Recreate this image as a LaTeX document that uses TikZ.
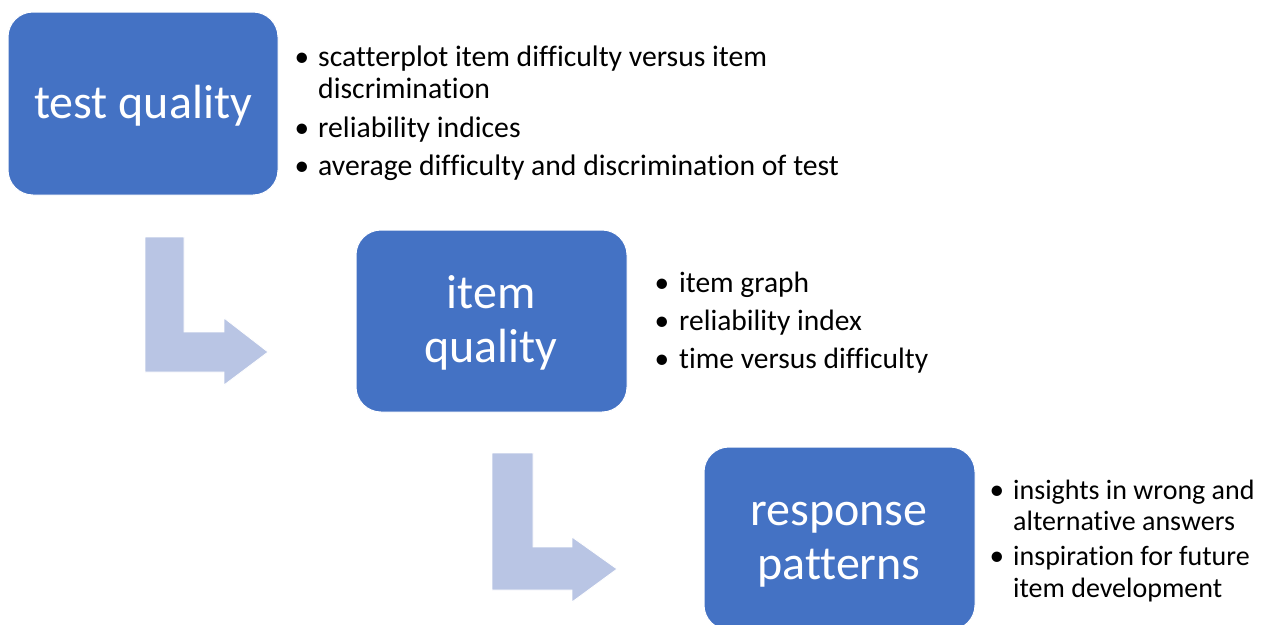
\documentclass[tikz,border=0pt]{standalone}
\usepackage{fontspec}
\setmainfont[Ligatures={NoCommon}]{Carlito}
\definecolor{boxblue}{HTML}{4472C4}
\definecolor{arrowblue}{HTML}{B9C5E4}
\begin{document}
\begin{tikzpicture}[x=1pt,y=-1pt,
  qbox/.style={draw=white, line width=1pt, fill=boxblue, rounded corners=25pt},
  bigtext/.style={text=white, font=\fontsize{48}{54}\selectfont, inner sep=0pt, anchor=base},
  bul/.style={font=\fontsize{29.3}{32}\selectfont, inner sep=0pt, anchor=base},
  ltext/.style={font=\fontsize{29.7}{32}\selectfont, inner sep=0pt, anchor=base west},
  ltextm/.style={font=\fontsize{29.5}{32}\selectfont, inner sep=0pt, anchor=base west},
  ltexts/.style={font=\fontsize{28}{32}\selectfont, inner sep=0pt, anchor=base west},
  bentarrow/.style={fill=arrowblue, draw=white, line width=0.8pt}
]
\useasboundingbox (0,0) rectangle (1264,624);
\clip (0,0) rectangle (1264,624);
\fill[white] (0,0) rectangle (1264,624);

% boxes
\draw[qbox] (8,12) rectangle (278,195);
\draw[qbox] (356,230) rectangle (627,412);
\draw[qbox] (704,447) rectangle (975,630);

\node[bigtext] (tq) at (143,118) {test quality};
\node[bigtext] (iq1) at (491,308) {item};
\node[bigtext] (iq2) at (491,362) {quality};
\node[bigtext] (rp1) at (839,525) {response};
\node[bigtext] (rp2) at (839,579) {patterns};

% bent arrows
\draw[bentarrow] (145,237) -- (184,237) -- (184,332) -- (224,332) -- (224,318) -- (268,352) -- (224,385) -- (224,372) -- (145,372) -- cycle;
\draw[bentarrow] (492,453) -- (533,453) -- (533,547) -- (572,547) -- (572,537) -- (617,569) -- (572,602) -- (572,590) -- (492,590) -- cycle;

% list 1
\node[bul] (b11) at (302,66) {•};
\node[ltext] (t11) at (318,66) {scatterplot item difficulty versus item};
\node[ltext] (t12) at (318,98) {discrimination};
\node[bul] (b12) at (302,137) {•};
\node[ltext] (t13) at (318,137) {reliability indices};
\node[bul] (b13) at (302,175) {•};
\node[ltext] (t14) at (318,175) {average difficulty and discrimination of test};

% list 2
\node[bul] (b21) at (662,292) {•};
\node[ltextm] (t21) at (679,292) {item graph};
\node[bul] (b22) at (662,330) {•};
\node[ltextm] (t22) at (679,330) {reliability index};
\node[bul] (b23) at (662,368) {•};
\node[ltextm] (t23) at (679,368) {time versus difficulty};

% list 3
\node[bul] (b31) at (997,499) {•};
\node[ltexts] (t31) at (1013,499) {insights in wrong and};
\node[ltexts] (t32) at (1013,530) {alternative answers};
\node[bul] (b32) at (997,565) {•};
\node[ltexts] (t33) at (1013,565) {inspiration for future};
\node[ltexts] (t34) at (1013,597) {item development};
\end{tikzpicture}
\end{document}
